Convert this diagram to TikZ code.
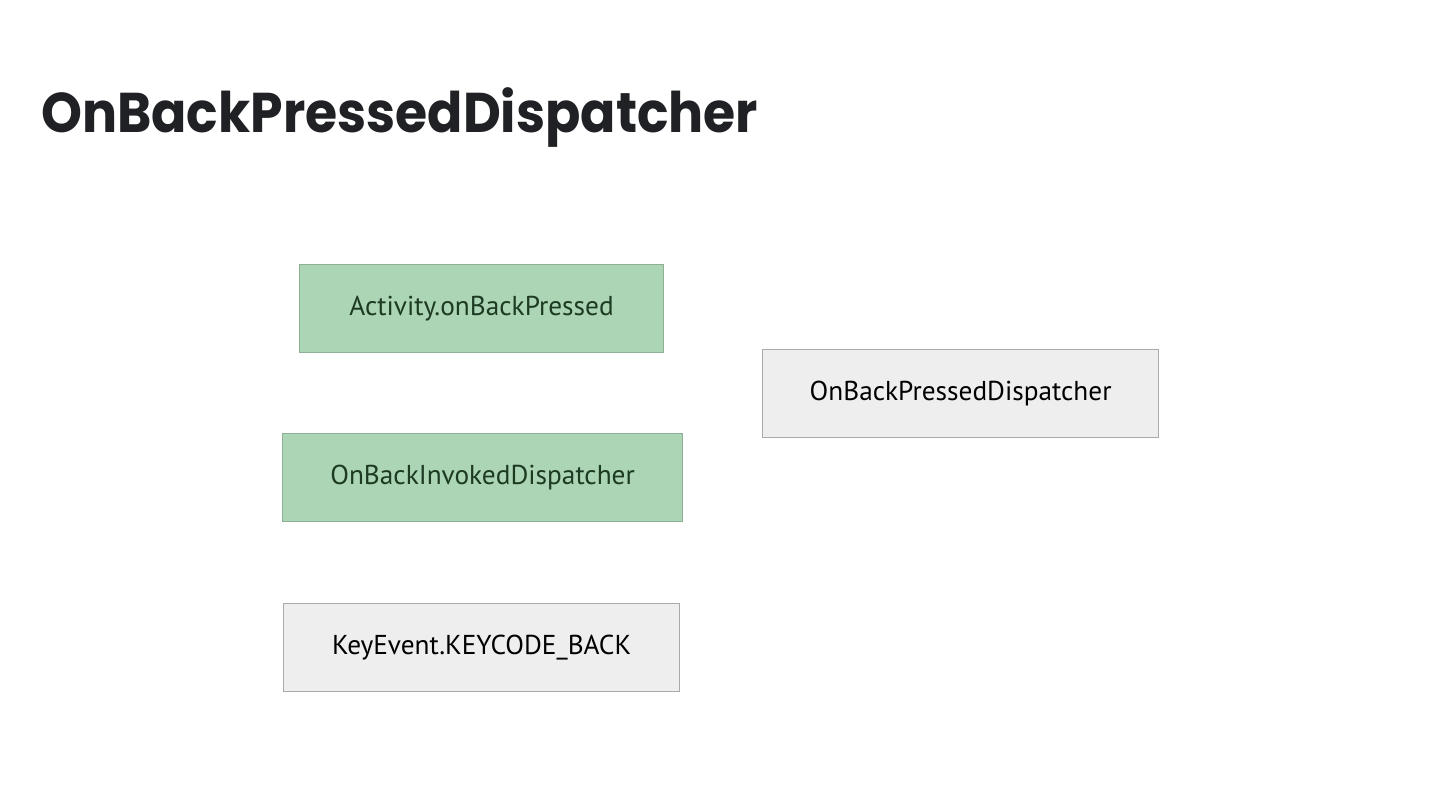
\documentclass[tikz,border=0pt]{standalone}
\usepackage{fontspec}
\setmainfont{PT Sans}
\newfontfamily\titlefont[FakeStretch=0.93]{Poppins}
\definecolor{greenfill}{HTML}{ACD5B5}
\definecolor{greenline}{HTML}{8FAF96}
\definecolor{greentext}{HTML}{1D3A22}
\definecolor{grayfill}{HTML}{EEEEEE}
\definecolor{grayline}{HTML}{AAAAAA}
\definecolor{titlecol}{HTML}{202124}
\begin{document}
\begin{tikzpicture}[x=1pt,y=-1pt,
  box/.style={draw, line width=1.2pt, inner sep=0pt, anchor=north west, font=\fontsize{27.3}{32}\selectfont},
  greenbox/.style={box, fill=greenfill, draw=greenline, text=greentext},
  graybox/.style={box, fill=grayfill, draw=grayline, text=black}]
\useasboundingbox[fill=white] (0,0) rectangle (1440,810);
\node[anchor=base west, inner sep=0pt, text=titlecol, font=\titlefont\bfseries\fontsize{56}{60}\selectfont] (title) at (41,133) {OnBackPressedDispatcher};
\node[greenbox, minimum width=364pt, minimum height=88pt] (act) at (299,264) {\raisebox{-2pt}{Activity.onBackPressed}};
\node[greenbox, minimum width=400pt, minimum height=88pt] (inv) at (282,433) {\raisebox{-2pt}{OnBackInvokedDispatcher}};
\node[graybox, minimum width=396pt, minimum height=88pt] (key) at (283,603) {\raisebox{-2pt}{KeyEvent.KEYCODE\_BACK}};
\node[graybox, minimum width=396pt, minimum height=88pt] (obp) at (762,349) {\raisebox{-2pt}{OnBackPressedDispatcher}};
\end{tikzpicture}
\end{document}
